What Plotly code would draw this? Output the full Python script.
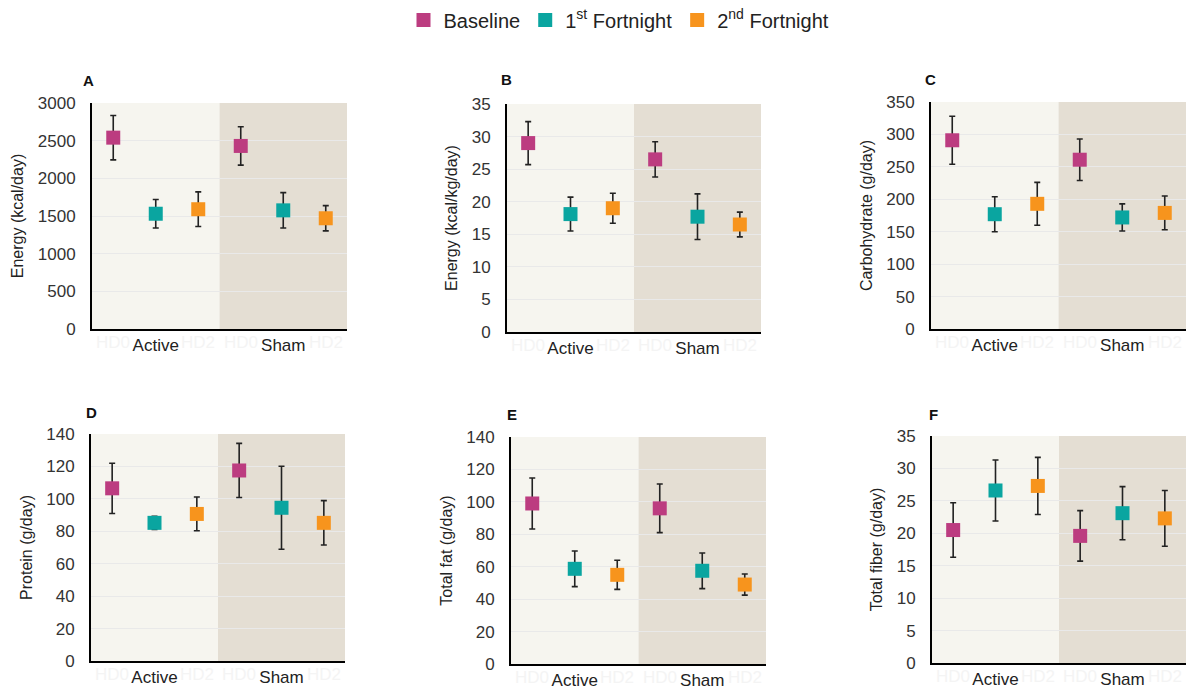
import plotly.graph_objects as go

# ---------------- data ----------------
groups = ["Active", "Sham"]
ghost_ticks = ["HD0", "HD1", "HD2", "HD0", "HD1", "HD2"]
series_names = ["Baseline", "1<sup>st</sup> Fortnight", "2<sup>nd</sup> Fortnight"]
panel_letters = ["A", "B", "C", "D", "E", "F"]
y_titles = ["Energy (kcal/day)", "Energy (kcal/kg/day)", "Carbohydrate (g/day)",
            "Protein (g/day)", "Total fat (g/day)", "Total fiber (g/day)"]
y_max = [3000, 35, 350, 140, 140, 35]
y_dtick = [500, 5, 50, 20, 20, 5]

# values per panel: [Active(Baseline,1st,2nd), Sham(Baseline,1st,2nd)]
energy_mean = [2540, 1530, 1590, 2430, 1575, 1470]
energy_err = [295, 190, 230, 255, 235, 168]
energy_kg_mean = [29.0, 18.1, 19.0, 26.5, 17.7, 16.5]
energy_kg_err = [3.3, 2.6, 2.3, 2.7, 3.5, 1.9]
carb_mean = [291, 177, 193, 261, 172, 179]
carb_err = [37, 27, 33, 32, 21, 26]
protein_mean = [106.5, 85.2, 90.7, 117.5, 94.5, 85.2]
protein_err = [15.5, 4.0, 10.4, 16.7, 25.6, 13.7]
fat_mean = [99, 58.7, 55, 96, 57.5, 49]
fat_err = [15.7, 11, 9, 15, 11, 6.5]
fiber_mean = [20.5, 26.6, 27.3, 19.6, 23.1, 22.3]
fiber_err = [4.2, 4.7, 4.4, 3.9, 4.1, 4.3]

panel_means = [energy_mean, energy_kg_mean, carb_mean, protein_mean, fat_mean, fiber_mean]
panel_errs = [energy_err, energy_kg_err, carb_err, protein_err, fat_err, fiber_err]

colors = ["#BC3C80", "#0AA5A0", "#F7941D"]
bg_active = "#F6F5EF"
bg_sham = "#E4DED3"
FONT = "Liberation Sans, Arial"

W, H = 1186, 690
# plot areas in screen pixels: (left, right, top, bottom)
boxes = [(92, 347, 103, 329), (507, 761, 104, 332), (931, 1186, 102, 329),
         (91, 345, 434, 661), (511, 766, 437, 664), (932, 1186, 436, 663)]
letter_pos = [(88, 81), (506, 80), (930, 79), (91, 413), (512, 414), (933, 414)]


def fx(px):
    return px / W


def fy(py):
    return 1 - py / H


fig = go.Figure()
layout = {}
annotations = []
shapes = []

for p in range(6):
    idx = "" if p == 0 else str(p + 1)
    xa, ya = "x" + idx, "y" + idx
    l, r, t, b = boxes[p]
    means = panel_means[p]
    errs = panel_errs[p]
    for s in range(3):
        xs = [s, s + 3]
        ys = [means[s], means[s + 3]]
        es = [errs[s], errs[s + 3]]
        fig.add_trace(go.Scatter(
            x=xs, y=ys, mode="markers", name=series_names[s],
            legendgroup=series_names[s], showlegend=(p == 0),
            marker=dict(symbol="square", size=14, color=colors[s],
                        line=dict(width=0)),
            error_y=dict(type="data", array=es, visible=True,
                         color="#222222", thickness=1.6, width=3),
            xaxis=xa, yaxis=ya, cliponaxis=False))
    layout["xaxis" + idx] = dict(
        domain=[fx(l), min(1, fx(r))], anchor=ya, range=[-0.5, 5.5], automargin=False,
        tickvals=[1, 4], ticktext=groups, showgrid=False, zeroline=False,
        showline=True, linecolor="black", linewidth=2,
        ticks="", tickfont=dict(family=FONT, size=17, color="#222222"),
        fixedrange=True)
    layout["yaxis" + idx] = dict(
        domain=[fy(b), fy(t)], anchor=xa, range=[0, y_max[p]], automargin=False,
        dtick=y_dtick[p], showgrid=True, gridcolor="#E9E9E9", gridwidth=1.2,
        zeroline=False, showline=True, linecolor="black", linewidth=2,
        ticks="outside", ticklen=11, tickcolor="rgba(0,0,0,0)",
        tickfont=dict(family=FONT, size=17, color="#333333"),
        title=dict(text=y_titles[p], standoff=10,
                   font=dict(family=FONT, size=16, color="#222222")),
        fixedrange=True)
    # background shading
    shapes.append(dict(type="rect", xref=xa, yref=ya + " domain", x0=-0.5, x1=2.5,
                       y0=0, y1=1, fillcolor=bg_active, line=dict(width=0), layer="below"))
    shapes.append(dict(type="rect", xref=xa, yref=ya + " domain", x0=2.5, x1=5.5,
                       y0=0, y1=1, fillcolor=bg_sham, line=dict(width=0), layer="below"))
    # faint ghost tick labels
    for k, gt in enumerate(ghost_ticks):
        if k in (1, 4):
            continue
        annotations.append(dict(x=k, y=0, xref=xa, yref=ya, text=gt, showarrow=False,
                                yanchor="top", yshift=-2,
                                font=dict(family=FONT, size=17, color="#F4F4F4")))
    lx, ly = letter_pos[p]
    annotations.append(dict(x=fx(lx), y=fy(ly), xref="paper", yref="paper",
                            text="<b>" + panel_letters[p] + "</b>", showarrow=False,
                            xanchor="center", yanchor="middle",
                            font=dict(family=FONT, size=15, color="#111111")))

fig.update_layout(**layout)
fig.update_layout(
    width=W, height=H, margin=dict(l=0, r=0, t=0, b=0, autoexpand=False),
    paper_bgcolor="white", plot_bgcolor="white",
    shapes=shapes, annotations=annotations,
    showlegend=True,
    legend=dict(orientation="h", x=fx(619), xanchor="center", y=fy(20), yanchor="middle",
                font=dict(family=FONT, size=20, color="#222222"),
                itemwidth=30, tracegroupgap=0, bgcolor="rgba(0,0,0,0)"),
)

fig.write_html("out.html",
               config={"displayModeBar": False},
               post_script="document.body.style.margin='0';"
                           "document.body.style.overflow='hidden';"
                           "document.documentElement.style.overflow='hidden';")
